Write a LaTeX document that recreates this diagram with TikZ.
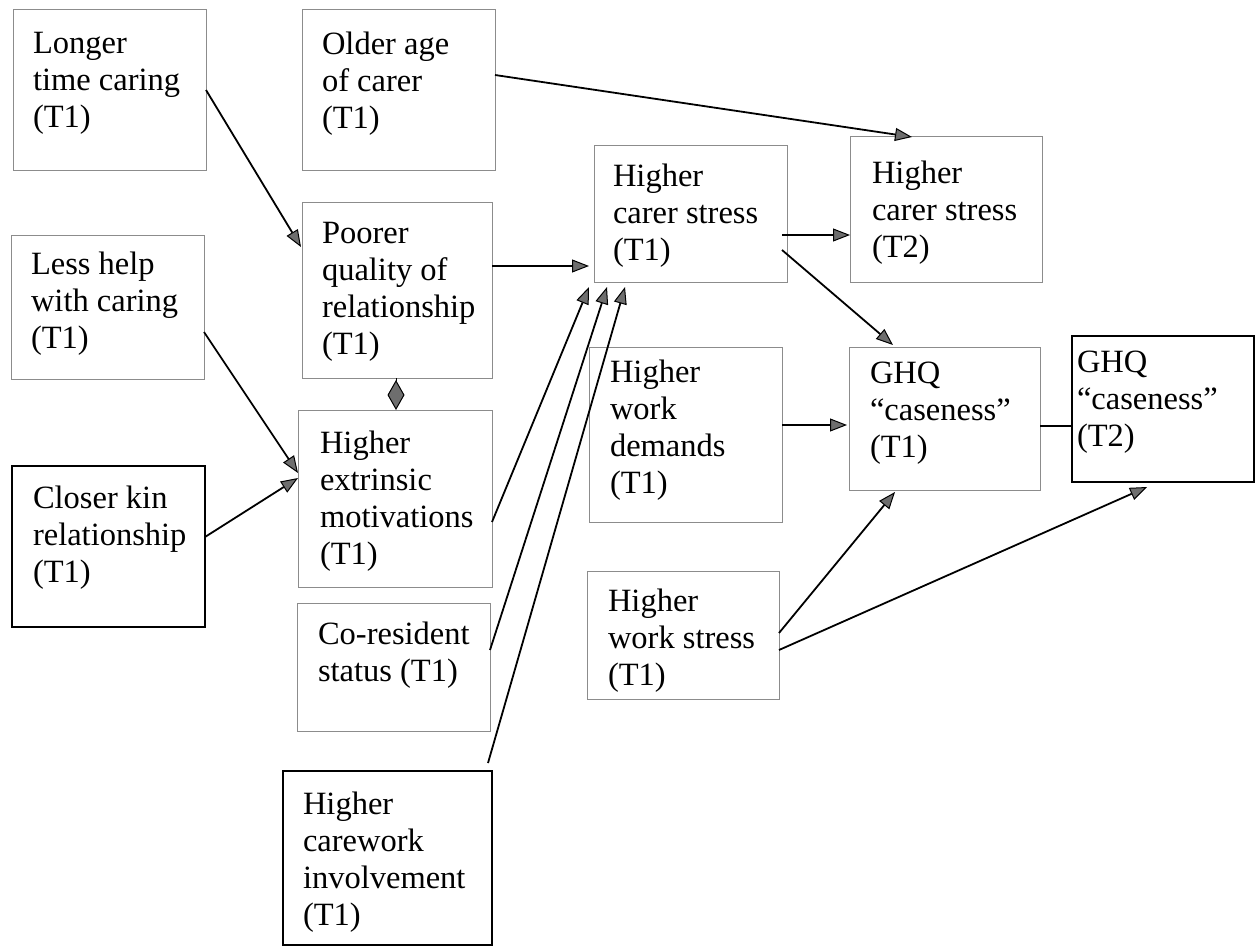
\documentclass[tikz,border=0pt]{standalone}
\usepackage{fontspec}
\setmainfont{Liberation Serif}
\usetikzlibrary{arrows.meta,calc}

\definecolor{rimgray}{HTML}{8C8C8C}
\definecolor{headgray}{HTML}{6E6E6E}

\tikzset{
  box/.style={draw=rimgray, line width=1pt, rectangle, inner sep=0pt, outer sep=0pt},
  darkbox/.style={draw=black, line width=1.8pt, rectangle, inner sep=0pt, outer sep=0pt},
  txt/.style={anchor=north west, inner sep=0pt, outer sep=0pt, align=left,
    font=\fontsize{32.5}{37}\selectfont},
  arr/.style={line width=1.8pt, draw=black,
    -{Triangle[length=17pt,width=13pt,fill=headgray,line width=1pt]}},
  plainline/.style={line width=1.8pt, draw=black},
  diam/.style={line width=1pt, draw=black,
    -{Diamond[length=30pt,width=17pt,fill=headgray,line width=1pt]}}
}

% box: name, left, top, right, bottom, style
\newcommand\placebox[6]{%
  \node[#6, anchor=north west, minimum width={(#4-#2)*1pt},
        minimum height={(#5-#3)*1pt}] (#1) at (#2,#3) {};}
% text inside a box: box name, x inset, y inset, lines
\newcommand\boxtext[4]{%
  \node[txt] (#1-t) at ($(#1.north west)+(#2,#3)$) {#4};}

\begin{document}
\begin{tikzpicture}[x=1pt,y=-1pt]
\useasboundingbox (0,0) rectangle (1259,947);

% boxes
\placebox{longer}{13}{10}{206}{171}{box}
\placebox{older}{302}{10}{495}{171}{box}
\placebox{lesshelp}{11}{235}{204}{379}{box}
\placebox{closer}{12}{466}{205}{627}{darkbox}
\placebox{poorer}{302}{202}{492}{378}{box}
\placebox{extr}{298}{410}{492}{587}{box}
\placebox{cores}{297}{603}{490}{731}{box}
\placebox{carework}{283}{771}{492}{945}{darkbox}
\placebox{stressA}{594}{146}{787}{282}{box}
\placebox{stressB}{850}{137}{1042}{282}{box}
\placebox{demands}{589}{347}{782}{522}{box}
\placebox{ghqA}{849}{347}{1040}{490}{box}
\placebox{ghqB}{1072}{336}{1254}{482}{darkbox}
\placebox{wstress}{587}{571}{779}{699}{box}

% texts
\boxtext{longer}{20}{22}{Longer\\time caring\\(T1)}
\boxtext{older}{20}{22}{Older age\\of carer\\(T1)}
\boxtext{lesshelp}{20}{17}{Less help\\with caring\\(T1)}
\boxtext{closer}{21}{20}{Closer kin\\relationship\\(T1)}
\boxtext{poorer}{20}{20}{Poorer\\quality of\\relationship\\(T1)}
\boxtext{extr}{22}{21}{Higher\\extrinsic\\motivations\\(T1)}
\boxtext{cores}{21}{19}{Co-resident\\status (T1)}
\boxtext{carework}{20}{21}{Higher\\carework\\involvement\\(T1)}
\boxtext{stressA}{19}{18}{Higher\\carer stress\\(T1)}
\boxtext{stressB}{22}{24}{Higher\\carer stress\\(T2)}
\boxtext{demands}{21}{13}{Higher\\work\\demands\\(T1)}
\boxtext{ghqA}{21}{15}{GHQ\\“caseness”\\(T1)}
\boxtext{ghqB}{5}{15}{GHQ\\“caseness”\\(T2)}
\boxtext{wstress}{21}{18}{Higher\\work stress\\(T1)}

% connectors
\draw[arr] ($(longer.north east)+(0,80)$) -- ($(poorer.north west)+(-1,45)$);
\draw[arr] ($(older.north east)+(0,65)$) -- ($(stressB.north west)+(62,0)$);
\draw[arr] ($(lesshelp.north east)+(0,97)$) -- ($(extr.north west)+(0,63)$);
\draw[arr] ($(closer.north east)+(0,71)$) -- ($(extr.north west)+(0,68)$);
\draw[arr] ($(poorer.north east)+(0,64)$) -- ($(stressA.north west)+(-5,120)$);
\draw[arr] ($(extr.north east)+(0,112)$) -- ($(stressA.south west)+(-5,5)$);
\draw[arr] ($(cores.north east)+(0,47)$) -- ($(stressA.south west)+(13,5)$);
\draw[arr] ($(carework.north east)+(-4,-8)$) -- ($(stressA.south west)+(31,5)$);
\draw[arr] ($(stressA.north east)+(-5,89)$) -- ($(stressB.north west)+(0,98)$);
\draw[arr] ($(stressA.north east)+(-5,104)$) -- ($(ghqA.north west)+(44,-2)$);
\draw[arr] ($(demands.north east)+(0,78)$) -- ($(ghqA.north west)+(-2,78)$);
\draw[plainline] ($(ghqA.north east)+(0,79)$) -- ($(ghqB.north west)+(0,90)$);
\draw[arr] ($(wstress.north east)+(0,62)$) -- ($(ghqA.south west)+(46,2)$);
\draw[arr] ($(wstress.north east)+(0,79)$) -- ($(ghqB.south west)+(75,5)$);

% two-way link between relationship quality and motivations
\draw[diam] ($(poorer.south west)+(94,0)$) -- ($(extr.north west)+(98,0)$);
\end{tikzpicture}
\end{document}
